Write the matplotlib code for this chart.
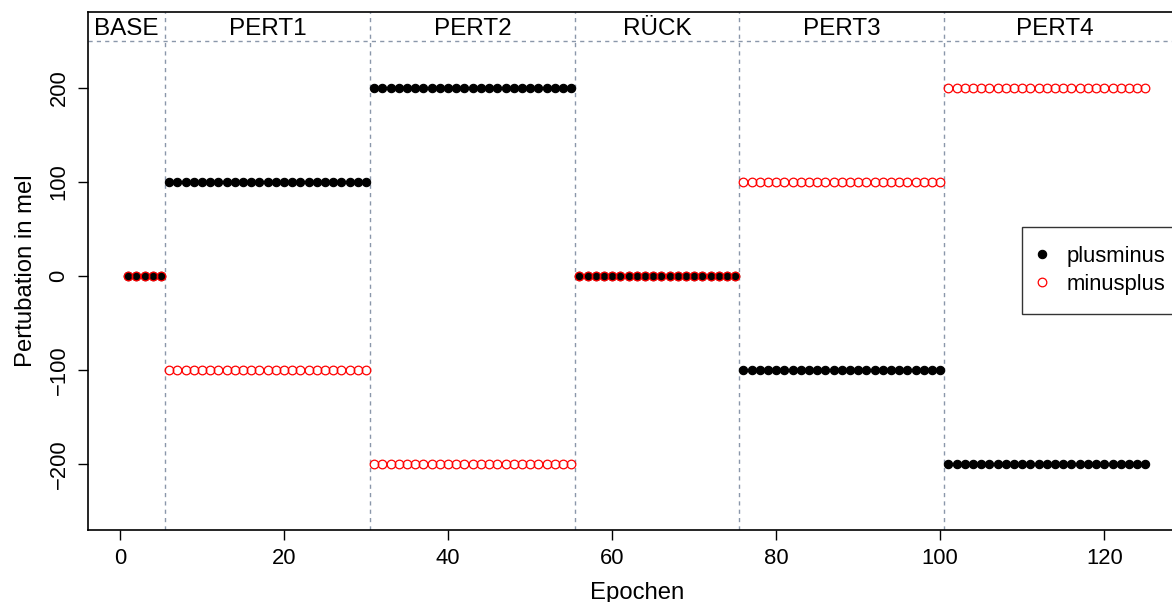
import numpy as np
import matplotlib.pyplot as plt

plt.rcParams['font.family'] = ['Liberation Sans', 'DejaVu Sans']

# phases: name, first epoch, last epoch, plusminus value, minusplus value
phases = ["BASE", "PERT1", "PERT2", "RÜCK", "PERT3", "PERT4"]
phase_start = [1, 6, 31, 56, 76, 101]
phase_end = [5, 30, 55, 75, 100, 125]
plusminus_vals = [0, 100, 200, 0, -100, -200]
minusplus_vals = [0, -100, -200, 0, 100, 200]
label_x = [0.8, 18, 43, 65.5, 88, 114]

epochs = []
plusminus = []
minusplus = []
for s, e, pm, mp in zip(phase_start, phase_end, plusminus_vals, minusplus_vals):
    n = e - s + 1
    epochs += list(range(s, e + 1))
    plusminus += [pm] * n
    minusplus += [mp] * n
epochs = np.array(epochs)

fig = plt.figure(figsize=(11.72, 6.02), dpi=100)
ax = fig.add_axes([87.5 / 1172, 72 / 602, (1186 - 87.5) / 1172, 518 / 602])

grid_col = '#8a97aa'
for b in phase_end[:-1]:
    ax.axvline(b + 0.5, color=grid_col, lw=1, ls=(0, (3, 3)), zorder=1)
ax.axhline(250, color=grid_col, lw=1, ls=(0, (3, 3)), zorder=1)

ax.plot(epochs, plusminus, 'o', color='black', ms=6, mec='black', mew=0.8,
        label='plusminus', zorder=3)
ax.plot(epochs, minusplus, 'o', mfc='none', mec='red', ms=6.2, mew=0.9,
        label='minusplus', zorder=4)

for name, x in zip(phases, label_x):
    ax.text(x, 262, name, ha='center', va='center', fontsize=17.5)

ax.set_xlim(-3.96, 129.96)
ax.set_ylim(-270.4, 280.4)
ax.set_xticks([0, 20, 40, 60, 80, 100, 120])
ax.set_yticks([-200, -100, 0, 100, 200])
ax.set_yticklabels(['\u2212200', '\u2212100', '0', '100', '200'], rotation=90, va='center')
ax.tick_params(direction='out', length=7, width=1, labelsize=15.8, pad=6)
for sp in ax.spines.values():
    sp.set_linewidth(1.2)

ax.set_xlabel('Epochen', fontsize=17.2, labelpad=9)
ax.set_ylabel('Pertubation in mel', fontsize=17.2, labelpad=8)

leg = ax.legend(loc='upper left', bbox_to_anchor=((1021.5 - 87.5) / 1098.5, (530 - 227) / 518),
                borderaxespad=0, frameon=True, fancybox=False, edgecolor='black',
                fontsize=15.8, handlelength=0.12, handletextpad=1.07,
                borderpad=0.87, labelspacing=0.32)
leg.get_frame().set_linewidth(1.0)

fig.savefig('out.png', dpi=100)
